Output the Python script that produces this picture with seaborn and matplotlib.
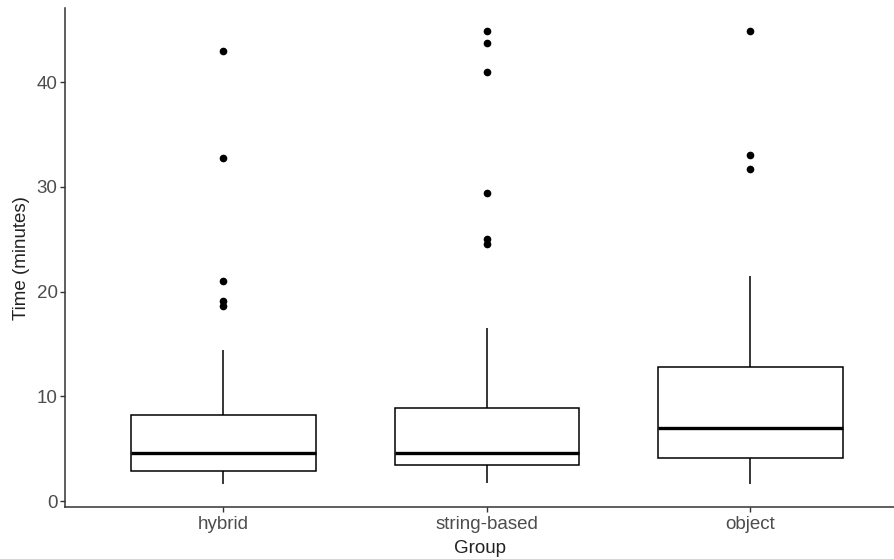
import numpy
import pandas
import seaborn
import matplotlib
from matplotlib import pyplot as plt

# values (minutes), one list per group
hybrid_times = [1.6, 1.9, 2.2, 2.4, 2.6, 2.8, 2.9, 3.2, 3.5, 3.8, 4.1, 4.4, 4.6,
                5.1, 5.7, 6.4, 7.0, 7.7, 8.2, 14.4, 18.6, 19.1, 21.0, 32.8, 43.0]
string_based_times = [1.7, 2.0, 2.3, 2.6, 2.9, 3.1, 3.3, 3.4, 3.6, 3.8, 3.9, 4.1,
                      4.3, 4.4, 4.6, 5.2, 5.8, 6.5, 7.2, 7.9, 8.5, 8.9, 16.5,
                      24.6, 25.0, 29.4, 41.0, 43.8, 44.9]
object_times = [1.6, 2.3, 3.0, 3.6, 4.1, 4.8, 5.6, 6.3, 6.95, 8.3, 9.9, 11.4,
                12.8, 21.5, 31.7, 33.1, 44.9]

group_names = ["hybrid", "string-based", "object"]
y_ticks = [0, 10, 20, 30, 40]


def build_frame():
    rows = []
    for name, values in zip(group_names, [hybrid_times, string_based_times, object_times]):
        for v in values:
            rows.append({"Group": name, "Time": v})
    return pandas.DataFrame(rows)


df = build_frame()

seaborn.set_style("ticks")
plt.rcParams["font.family"] = ["Liberation Sans", "DejaVu Sans"]

fig = plt.figure(figsize=(8.95, 5.59), dpi=100)
ax = fig.add_axes([65.3 / 895, 51.7 / 559, 1 - 65.3 / 895, (507.3 - 8) / 559])

seaborn.boxplot(
    data=df,
    x="Group",
    y="Time",
    order=group_names,
    width=0.7,
    color="white",
    linecolor="black",
    linewidth=1.1,
    showcaps=False,
    medianprops={"linewidth": 2.4, "color": "black"},
    flierprops={
        "marker": "o",
        "markerfacecolor": "black",
        "markeredgecolor": "black",
        "markersize": 4.5,
    },
    ax=ax,
)

ax.set_xlim(-0.6, 2.549)
ax.set_ylim(-0.6, 47.1)
ax.set_yticks(y_ticks)

ax.spines[["right", "top"]].set_visible(False)
for side in ["left", "bottom"]:
    ax.spines[side].set_linewidth(1.1)
    ax.spines[side].set_color("#333333")

ax.tick_params(axis="both", length=3.5, width=1, color="#333333",
               labelcolor="#4D4D4D", labelsize=13.5, pad=2)
ax.tick_params(axis="x", pad=3)

ax.set_xlabel("Group", fontsize=13.5, color="#222222", labelpad=5)
ax.set_ylabel("Time (minutes)", fontsize=13.5, color="#222222", labelpad=5)

fig.savefig("out.png", dpi=100)
